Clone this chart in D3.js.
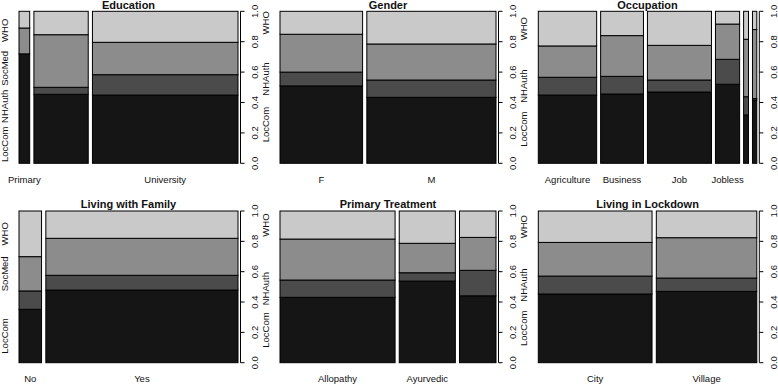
<!DOCTYPE html>
<html>
<head>
<meta charset="utf-8">
<script src="https://cdn.jsdelivr.net/npm/d3@7"></script>
<style>
  body { margin: 0; background: #fff; }
  svg { display: block; font-family: "Liberation Sans", Arial, sans-serif; }
</style>
</head>
<body>
<div id="chart"></div>
<script>
// --- Data (shares of each response within every category) ---
const responses = ["LocCom", "NHAuth", "SocMed", "WHO"];
const fills = ["#151515", "#4b4b4b", "#8c8c8c", "#c9c9c9"];
const yTicks = [0, 0.2, 0.4, 0.6, 0.8, 1.0];

const eduCats = ["Primary", "Secondary", "University"];
const eduWidths = [0.051, 0.259, 0.694];
const eduShares = [
  [0.72, 0.0, 0.17, 0.11],
  [0.454, 0.046, 0.346, 0.154],
  [0.449, 0.134, 0.213, 0.204]
];

const genderCats = ["F", "M"];
const genderWidths = [0.39, 0.61];
const genderShares = [
  [0.509, 0.091, 0.249, 0.151],
  [0.434, 0.114, 0.237, 0.215]
];

const occCats = ["Agriculture", "Business", "Job", "Jobless", "Student", "Retired"];
const occWidths = [0.297, 0.218, 0.326, 0.123, 0.025, 0.022];
const occShares = [
  [0.449, 0.117, 0.206, 0.228],
  [0.456, 0.116, 0.268, 0.160],
  [0.469, 0.079, 0.228, 0.224],
  [0.520, 0.164, 0.232, 0.084],
  [0.318, 0.120, 0.378, 0.184],
  [0.416, 0.010, 0.454, 0.120]
];

const familyCats = ["No", "Yes"];
const familyWidths = [0.105, 0.895];
const familyShares = [
  [0.352, 0.121, 0.226, 0.301],
  [0.479, 0.097, 0.244, 0.180]
];

const treatCats = ["Allopathy", "Ayurvedic", "Homeopathy"];
const treatWidths = [0.558, 0.272, 0.177];
const treatShares = [
  [0.431, 0.114, 0.270, 0.185],
  [0.538, 0.055, 0.194, 0.213],
  [0.441, 0.168, 0.217, 0.174]
];

const lockCats = ["City", "Village"];
const lockWidths = [0.532, 0.470];
const lockShares = [
  [0.453, 0.118, 0.222, 0.207],
  [0.470, 0.088, 0.266, 0.176]
];

const panels = [
  { title: "Education", cats: eduCats, widths: eduWidths, shares: eduShares, evenLabels: true },
  { title: "Gender", cats: genderCats, widths: genderWidths, shares: genderShares },
  { title: "Occupation", cats: occCats, widths: occWidths, shares: occShares },
  { title: "Living with Family", cats: familyCats, widths: familyWidths, shares: familyShares },
  { title: "Primary Treatment", cats: treatCats, widths: treatWidths, shares: treatShares },
  { title: "Living in Lockdown", cats: lockCats, widths: lockWidths, shares: lockShares }
];

// --- Layout ---
const W = 778, H = 385;
const colLeft = [19, 280, 538.3];
const colRight = [238, 496, 756.8];
const rowTop = [11.3, 211];
const rowBottom = [163.3, 362.7];
const off = 0.02;       // gap between bars in data units (like spineplot)
const axisFont = 9.5;
const xLabelGap = 6;
const yLabelGap = 3;

const svg = d3.select("#chart").append("svg")
  .attr("width", W)
  .attr("height", H);

panels.forEach((p, i) => {
  const col = i % 3, row = Math.floor(i / 3);
  const left = colLeft[col], right = colRight[col];
  const top = rowTop[row], bottom = rowBottom[row];
  const n = p.cats.length;

  const g = svg.append("g");

  const x = d3.scaleLinear()
    .domain([0, 1 + off * (n - 1)])
    .range([left, right]);
  const y = d3.scaleLinear()
    .domain([0, 1])
    .range([bottom, top]);

  // normalise widths, compute bar starts
  const totalW = d3.sum(p.widths);
  let acc = 0;
  const bars = p.cats.map((c, j) => {
    const w = p.widths[j] / totalW;
    const x0 = acc + j * off;
    acc += w;
    let cum = 0;
    const segs = p.shares[j].map((s, k) => {
      const seg = { k, y0: cum, y1: cum + s };
      cum += s;
      return seg;
    });
    // force last segment to reach 1
    segs[segs.length - 1].y1 = 1;
    return { cat: c, x0, x1: x0 + w, segs };
  });

  // --- Bars ---
  bars.forEach(b => {
    g.selectAll(null)
      .data(b.segs.filter(s => s.y1 - s.y0 > 0))
      .enter()
      .append("rect")
      .attr("x", x(b.x0))
      .attr("width", x(b.x1) - x(b.x0))
      .attr("y", s => y(s.y1))
      .attr("height", s => y(s.y0) - y(s.y1))
      .attr("fill", s => fills[s.k])
      .attr("stroke", "#000")
      .attr("stroke-width", 1);
  });

  // --- Title ---
  g.append("text")
    .attr("x", (left + right) / 2)
    .attr("y", top - 2.7)
    .attr("text-anchor", "middle")
    .attr("font-size", 11)
    .attr("font-weight", "bold")
    .attr("fill", "#111")
    .text(p.title);

  // --- X labels (skip overlaps like R's axis) ---
  let lastRight = -Infinity;
  bars.forEach(b => {
    const cx = (x(b.x0) + x(b.x1)) / 2;
    const t = g.append("text")
      .attr("x", cx)
      .attr("y", bottom + 19.5)
      .attr("text-anchor", "middle")
      .attr("font-size", axisFont)
      .attr("fill", "#111")
      .text(b.cat);
    const len = t.node().getComputedTextLength();
    if (cx - len / 2 < lastRight + xLabelGap) {
      t.remove();
    } else {
      lastRight = cx + len / 2;
    }
  });

  // --- Left labels (mid of first column's segments) ---
  const first = bars[0].segs;
  let lastTop = Infinity;
  responses.forEach((r, k) => {
    const pos = p.evenLabels ? (k + 0.5) / responses.length : (first[k].y0 + first[k].y1) / 2;
    const cy = y(pos);
    const t = g.append("text")
      .attr("transform", `translate(${left - 11},${cy}) rotate(-90)`)
      .attr("text-anchor", "middle")
      .attr("font-size", axisFont)
      .attr("fill", "#111")
      .text(r);
    const len = t.node().getComputedTextLength();
    if (cy + len / 2 > lastTop - yLabelGap) {
      t.remove();
    } else {
      lastTop = cy - len / 2;
    }
  });

  // --- Right axis ---
  const ax = right + 2.5;
  g.append("line")
    .attr("x1", ax).attr("x2", ax)
    .attr("y1", y(0)).attr("y2", y(1))
    .attr("stroke", "#000");
  g.selectAll(null)
    .data(yTicks)
    .enter()
    .append("line")
    .attr("x1", ax).attr("x2", ax + 4)
    .attr("y1", d => y(d)).attr("y2", d => y(d))
    .attr("stroke", "#000");
  g.selectAll(null)
    .data(yTicks)
    .enter()
    .append("text")
    .attr("transform", d => `translate(${ax + 17.5},${y(d)}) rotate(-90)`)
    .attr("text-anchor", "middle")
    .attr("font-size", axisFont)
    .attr("fill", "#111")
    .text(d => d3.format(".1f")(d));
});
</script>
</body>
</html>
